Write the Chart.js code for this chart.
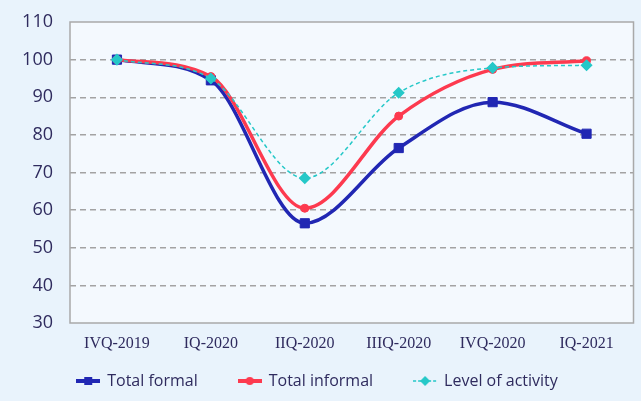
<!DOCTYPE html>
<html>
<head>
<meta charset="utf-8">
<script src="https://cdn.jsdelivr.net/npm/chart.js@4/dist/chart.umd.min.js"></script>
<style>
    html, body { margin: 0; padding: 0; background: #e9f3fc; }
    #wrap { width: 641px; height: 401px; }
</style>
</head>
<body>
<div id="wrap"><canvas id="line-chart" width="641" height="401"></canvas></div>
<script>
// 数据
var quarters = ["IVQ-2019", "IQ-2020", "IIQ-2020", "IIIQ-2020", "IVQ-2020", "IQ-2021"];
var totalFormal = [100, 94.5, 56.5, 76.5, 88.7, 80.3];
var totalInformal = [100, 95.5, 60.5, 85, 97.4, 99.7];
var levelOfActivity = [100, 95, 68.5, 91.2, 97.8, 98.5];
var yTicks = [30, 40, 50, 60, 70, 80, 90, 100, 110];

var BLUE = '#2127b3', RED = '#fd3a4f', CYAN = '#25c8c8', TEXT = '#2f2b5e';

init();
function init(){
    showLineChart();
}

// 图例小图标 (线+标记)
function legendIcon(color, kind){
    var c = document.createElement('canvas');
    c.width = 24; c.height = 12;
    var g = c.getContext('2d');
    g.strokeStyle = color;
    g.fillStyle = color;
    g.beginPath();
    if(kind === 'diamond'){
        g.lineWidth = 1.5;
        g.setLineDash([3, 2]);
    }else{
        g.lineWidth = 4;
    }
    g.moveTo(0, 6); g.lineTo(24, 6); g.stroke();
    g.setLineDash([]);
    g.beginPath();
    if(kind === 'rect'){
        g.rect(8, 2, 8, 8);
    }else if(kind === 'circle'){
        g.arc(12, 6, 4, 0, Math.PI * 2);
    }else{
        g.moveTo(12, 1); g.lineTo(17, 6); g.lineTo(12, 11); g.lineTo(7, 6); g.closePath();
    }
    g.fill();
    return c;
}

function showLineChart(){
    var icons = [legendIcon(BLUE, 'rect'), legendIcon(RED, 'circle'), legendIcon(CYAN, 'diamond')];

    // 背景和边框
    var plotBg = {
        id: 'plotBg',
        beforeDraw: function(chart){
            var ctx = chart.ctx, a = chart.chartArea;
            ctx.save();
            ctx.fillStyle = '#e9f3fc';
            ctx.fillRect(0, 0, chart.width, chart.height);
            ctx.fillStyle = '#f4f9fe';
            ctx.fillRect(a.left, a.top, a.right - a.left, a.bottom - a.top);
            ctx.restore();
        },
        beforeDatasetsDraw: function(chart){
            var ctx = chart.ctx, a = chart.chartArea;
            ctx.save();
            ctx.strokeStyle = '#a9a9a9';
            ctx.lineWidth = 1.5;
            ctx.strokeRect(a.left, a.top, a.right - a.left, a.bottom - a.top);
            ctx.restore();
        }
    };

    // 图例: 高度固定, 画的位置往上挪
    var legendFit = {
        id: 'legendFit',
        beforeLayout: function(chart){
            var lg = chart.legend;
            if(lg && !lg._patched){
                var fit = lg.fit;
                lg.fit = function(){ fit.call(this); this.height = 48; };
                lg._patched = true;
            }
        },
        afterLayout: function(chart){
            var lg = chart.legend;
            if(lg){
                lg.top = 332;
                lg.bottom = 401;
            }
        }
    };

    var ctx = document.getElementById('line-chart');
    new Chart(ctx, {
        type: 'line',
        data: {
            labels: quarters,
            datasets: [{
                label: 'Total formal',
                data: totalFormal,
                borderColor: BLUE,
                backgroundColor: BLUE,
                borderWidth: 3.5,
                pointStyle: 'rect',
                pointRadius: 6.5,
                pointBorderWidth: 1,
                order: 2
            }, {
                label: 'Total informal',
                data: totalInformal,
                borderColor: RED,
                backgroundColor: RED,
                borderWidth: 3.5,
                pointStyle: 'circle',
                pointRadius: 4,
                pointBorderWidth: 1,
                order: 1
            }, {
                label: 'Level of activity',
                data: levelOfActivity,
                borderColor: CYAN,
                backgroundColor: CYAN,
                borderWidth: 1.5,
                borderDash: [4, 3],
                pointStyle: 'rectRot',
                pointRadius: 5,
                order: 0
            }]
        },
        options: {
            responsive: false,
            animation: false,
            devicePixelRatio: 1,
            layout: { padding: { left: 0, right: 6, top: 22, bottom: 0 } },
            elements: { line: { cubicInterpolationMode: 'monotone' } },
            scales: {
                x: {
                    offset: true,
                    grid: { display: false, drawTicks: false },
                    border: { display: false },
                    ticks: {
                        padding: 11,
                        color: TEXT,
                        font: { family: 'Liberation Serif', size: 16 },
                        maxRotation: 0,
                        autoSkip: false
                    },
                    afterFit: function(s){ s.height = 30; }
                },
                y: {
                    min: 30,
                    max: 110,
                    afterBuildTicks: function(s){
                        s.ticks = yTicks.map(function(v){ return { value: v }; });
                    },
                    grid: {
                        drawTicks: false,
                        color: function(c){
                            var v = c.tick && c.tick.value;
                            return (v > 30 && v < 110) ? '#a3a3a3' : 'rgba(0,0,0,0)';
                        },
                        lineWidth: 1.5
                    },
                    border: { display: false, dash: [6, 4] },
                    ticks: {
                        padding: 17,
                        color: TEXT,
                        font: { family: 'Open Sans', size: 18 }
                    },
                    afterFit: function(s){
                        s.width = 70;
                        s.paddingTop = 11;
                        s.paddingBottom = 11;
                    }
                }
            },
            plugins: {
                legend: {
                    position: 'bottom',
                    labels: {
                        usePointStyle: true,
                        pointStyleWidth: 22,
                        padding: 41,
                        color: TEXT,
                        font: { family: 'Open Sans', size: 16 },
                        generateLabels: function(chart){
                            var items = Chart.defaults.plugins.legend.labels.generateLabels(chart);
                            items.sort(function(a, b){ return a.datasetIndex - b.datasetIndex; });
                            items.forEach(function(it){ it.pointStyle = icons[it.datasetIndex]; });
                            return items;
                        }
                    }
                },
                tooltip: { enabled: false }
            }
        },
        plugins: [plotBg, legendFit]
    });
}
</script>
</body>
</html>
